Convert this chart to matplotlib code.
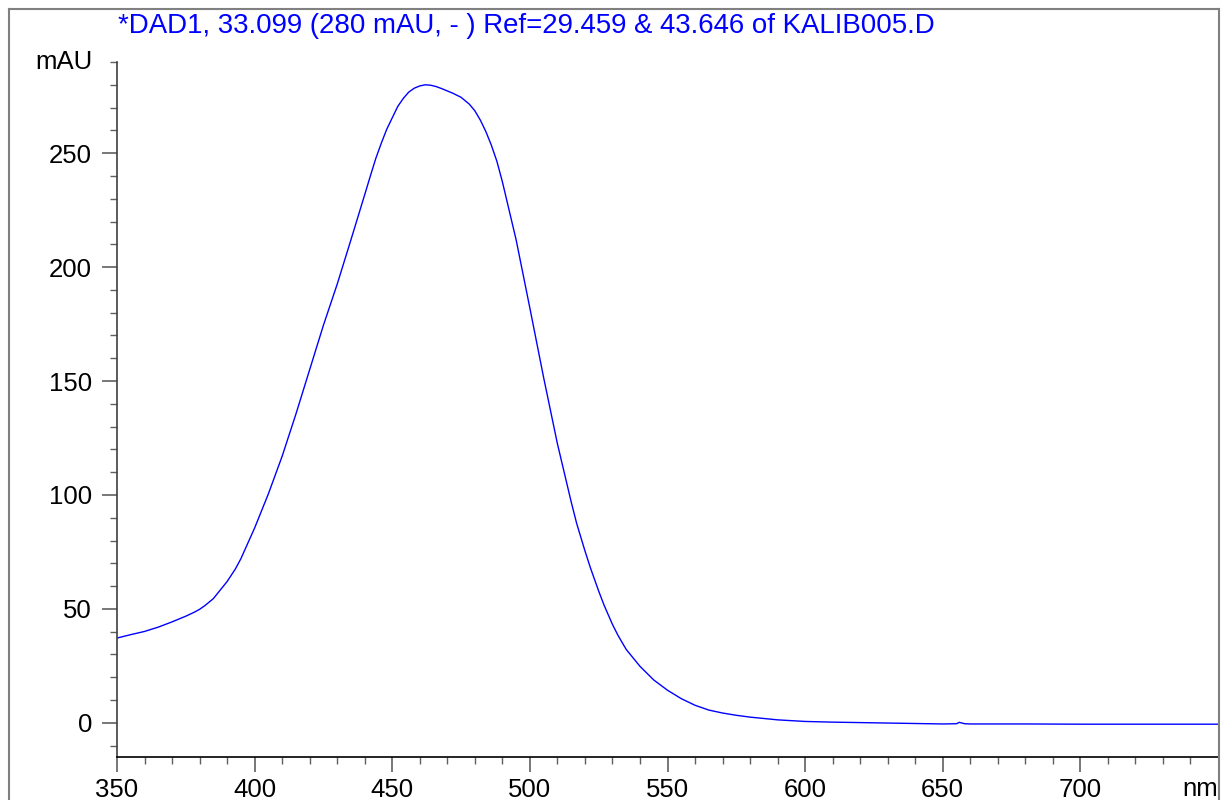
import matplotlib
matplotlib.use("Agg")
import matplotlib.pyplot as plt
from matplotlib.lines import Line2D

plt.rcParams["font.family"] = ["Liberation Sans", "DejaVu Sans"]

# Spectrum (wavelength in nm, absorbance in mAU)
wavelength = [350, 355, 360, 365, 370, 375, 378, 380, 382, 385,
              388, 390, 393, 395, 400, 405, 410, 415, 420, 425,
              430, 435, 440, 442, 444, 446, 448, 450, 452, 454,
              456, 458, 460, 462, 464, 466, 468, 470, 472, 475,
              478, 480, 482, 484, 486, 488, 490, 495, 500, 505,
              510, 512, 515, 517, 520, 522, 525, 527, 530, 532,
              535, 540, 545, 550, 555, 560, 565, 570, 575, 580,
              590, 600, 610, 620, 640, 650, 655, 656, 658, 660,
              680, 700, 720, 750]
absorbance = [37.2, 38.7, 40.1, 42.0, 44.3, 46.8, 48.5, 49.8, 51.5, 54.5,
              59.0, 62.0, 67.5, 72.0, 85.5, 100.5, 117.0, 135.5, 155.0, 174.5,
              192.5, 212.0, 231.8, 239.8, 247.6, 254.3, 260.5, 265.5, 270.5, 274.0,
              276.8, 278.5, 279.5, 280.0, 279.8, 279.2, 278.3, 277.3, 276.3, 274.5,
              271.5, 268.6, 264.5, 259.5, 253.5, 246.5, 237.5, 212.0, 182.0, 151.5,
              122.5, 112.3, 97.0, 87.5, 75.5, 68.0, 57.8, 51.5, 43.2, 38.4,
              32.2, 24.8, 18.8, 14.3, 10.6, 7.7, 5.6, 4.3, 3.3, 2.5,
              1.3, 0.6, 0.3, 0.1, -0.3, -0.5, -0.4, 0.2, -0.4, -0.5,
              -0.5, -0.6, -0.6, -0.6]

x_major = [350, 400, 450, 500, 550, 600, 650, 700]
x_minor = list(range(350, 750, 10))
y_major = [0, 50, 100, 150, 200, 250]
y_minor = list(range(-10, 300, 10))

title = "*DAD1, 33.099 (280 mAU, - ) Ref=29.459 & 43.646 of KALIB005.D"

W, H = 1222, 800
fig = plt.figure(figsize=(W / 100, H / 100), dpi=100)
ax = fig.add_axes([117 / W, 1 - 757 / H, (1218 - 117) / W, (757 - 62) / H])

ax.plot(wavelength, absorbance, color="#0000ff", lw=1.0)

ax.set_xlim(350, 750)
ax.set_ylim(-15, 290)

ax.set_xticks(x_major)
ax.set_xticks(x_minor, minor=True)
ax.set_yticks(y_major)
ax.set_yticks(y_minor, minor=True)

ax.tick_params(which="major", direction="out", length=11, width=1.2,
               color="#606060", labelsize=18.5, pad=4)
ax.tick_params(which="minor", direction="out", length=5, width=1.0,
               color="#606060")
ax.tick_params(axis="y", which="major", pad=7)

for side in ["top", "right"]:
    ax.spines[side].set_visible(False)
ax.spines["left"].set_color("#404040")
ax.spines["bottom"].set_color("#000000")
ax.spines["left"].set_linewidth(1.2)
ax.spines["bottom"].set_linewidth(1.2)

# unit labels sit where the last tick labels would be
ax.text(-0.022, 290, "mAU", transform=ax.get_yaxis_transform(),
        ha="right", va="center", fontsize=18.5)
ax.text(750, -0.029, "nm", transform=ax.get_xaxis_transform(),
        ha="right", va="top", fontsize=18.5)

fig.text(118 / W, 1 - 33 / H, title, color="#0000ff", fontsize=19.9,
         ha="left", va="baseline")

# outer frame
frame_kw = dict(color="#808080", lw=1.5, transform=fig.transFigure)
fig.add_artist(Line2D([9 / W, 9 / W], [0, 1 - 9 / H], **frame_kw))
fig.add_artist(Line2D([9 / W, 1219 / W], [1 - 9 / H, 1 - 9 / H], **frame_kw))
fig.add_artist(Line2D([1219 / W, 1219 / W], [0, 1 - 9 / H], **frame_kw))

fig.savefig("out.png", dpi=100)
